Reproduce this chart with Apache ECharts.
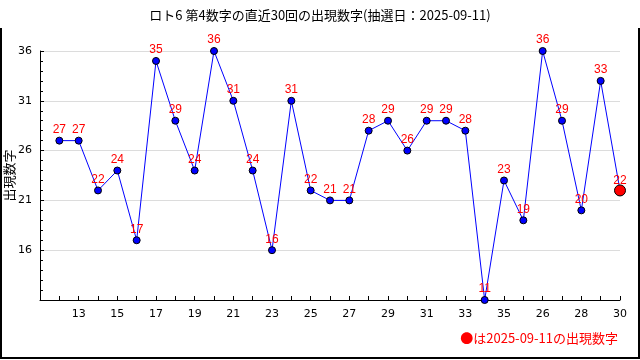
<!DOCTYPE html>
<html>
<head>
<meta charset="utf-8">
<script src="https://cdn.jsdelivr.net/npm/echarts@6/dist/echarts.min.js"></script>
<style>html,body{margin:0;padding:0;background:#fff}#c{width:640px;height:360px}</style>
</head>
<body>
<div id="c"></div>
<script>
const titleText = 'ロト6 第4数字の直近30回の出現数字(抽選日：2025-09-11)';
const yAxisName = '出現数字';
const legendText = '●は2025-09-11の出現数字';
// draw positions 1..30 and the number that appeared
const positions = [1,2,3,4,5,6,7,8,9,10,11,12,13,14,15,16,17,18,19,20,21,22,23,24,25,26,27,28,29,30];
const values = [27,27,22,24,17,35,29,24,36,31,24,16,31,22,21,21,28,29,26,29,29,28,11,23,19,36,29,20,33,22];
// x tick labels shown at positions 2,4,...,30
const xTickPositions = [2,4,6,8,10,12,14,16,18,20,22,24,26,28,30];
const xTickLabels = ['13','15','17','19','21','23','25','27','29','31','33','35','26','28','30'];
const yTicks = [16,21,26,31,36];

const seriesData = positions.map((p, i) => {
  const last = i === positions.length - 1;
  const d = { value: [p, values[i]] };
  if (last) {
    d.symbolSize = 11;
    d.itemStyle = { color: '#ff0000', borderColor: '#000', borderWidth: 1 };
    d.label = { distance: -2 };
  }
  return d;
});

const chart = echarts.init(document.getElementById('c'), null, { renderer: 'canvas' });
chart.setOption({
  animation: false,
  backgroundColor: '#fff',
  title: {
    text: titleText, left: 'center', top: 4,
    textStyle: { fontFamily: 'Noto Sans CJK JP', fontSize: 13, fontWeight: 'normal', color: '#000' }
  },
  grid: { left: 40, right: 20, top: 51, bottom: 60, containLabel: false, outerBoundsMode: 'none' },
  xAxis: {
    type: 'value', min: 0, max: 30, interval: 1,
    axisLine: { show: true, lineStyle: { color: '#000', width: 1 } },
    axisTick: { show: true, inside: true, length: 4, lineStyle: { color: '#000' } },
    axisLabel: {
      color: '#000', fontSize: 11, fontFamily: 'DejaVu Sans', margin: 9,
      formatter: v => { const k = xTickPositions.indexOf(v); return k >= 0 ? xTickLabels[k] : ''; }
    },
    splitLine: { show: false }
  },
  yAxis: {
    type: 'value', min: 11, max: 36, interval: 5,
    name: yAxisName, nameLocation: 'middle', nameGap: 24, nameRotate: 90, nameMoveOverlap: false,
    nameTextStyle: { fontFamily: 'Noto Sans CJK JP', fontSize: 13, color: '#000' },
    axisLine: { show: true, lineStyle: { color: '#000', width: 1 } },
    axisTick: { show: true, inside: true, length: 4, lineStyle: { color: '#000' } },
    minorTick: { show: true, splitNumber: 5, length: 3, lineStyle: { color: '#000' } },
    axisLabel: {
      color: '#000', fontSize: 11, fontFamily: 'DejaVu Sans', margin: 8,
      formatter: v => yTicks.indexOf(v) >= 0 ? String(v) : ''
    },
    splitLine: { show: true, lineStyle: { color: '#dcdcdc', width: 1 } }
  },
  series: [
    {
      type: 'line',
      data: seriesData,
      symbol: 'circle',
      symbolSize: 7,
      lineStyle: { color: '#0000ff', width: 1 },
      itemStyle: { color: '#0000ff', borderColor: '#000', borderWidth: 1 },
      label: {
        show: true, position: 'top', distance: 1,
        color: '#ff0000', fontSize: 12, fontFamily: 'Liberation Sans',
        formatter: p => String(p.value[1])
      },
      z: 3
    }
  ],
  graphic: [
    {
      type: 'polyline', silent: true,
      shape: { points: [[1, 28], [1, 358], [639, 358], [639, 28]] },
      style: { stroke: '#000', lineWidth: 2, fill: null }
    },
    {
      type: 'text', right: 22, top: 332,
      style: { text: legendText, fill: '#ff0000', fontSize: 13, fontFamily: 'Noto Sans CJK JP' }
    }
  ]
});
</script>
</body>
</html>
